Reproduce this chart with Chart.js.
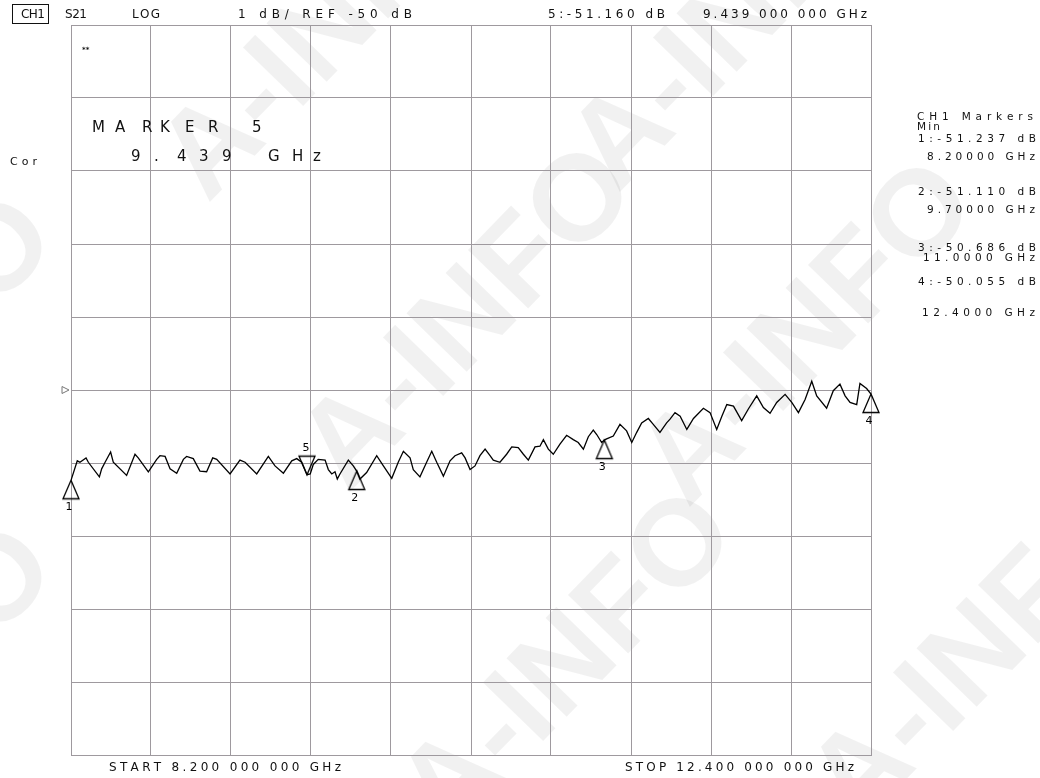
<!DOCTYPE html>
<html>
<head>
<meta charset="utf-8">
<script src="https://cdn.jsdelivr.net/npm/chart.js@4.4.0/dist/chart.umd.min.js"></script>
<style>
  html, body { margin: 0; padding: 0; background: #fff; }
  #wrap { width: 1040px; height: 778px; }
</style>
</head>
<body>
<div id="wrap"><canvas id="chart" width="1040" height="778"></canvas></div>
<script>
// Sweep settings
const startGHz = 8.2;
const stopGHz = 12.4;
const refDB = -50;
const dbPerDiv = 1;

// S21 trace
const freqGHz = [
  8.200, 8.233, 8.247, 8.279, 8.291, 8.349, 8.361, 8.379, 8.408, 8.422,
  8.492, 8.536, 8.553, 8.606, 8.650, 8.667, 8.694, 8.720, 8.755, 8.790,
  8.807, 8.842, 8.877, 8.912, 8.944, 8.965, 9.035, 9.087, 9.114, 9.175,
  9.236, 9.271, 9.315, 9.359, 9.385, 9.411, 9.439, 9.456, 9.472, 9.498,
  9.534, 9.551, 9.569, 9.586, 9.598, 9.612, 9.656, 9.682, 9.700, 9.717,
  9.752, 9.805, 9.840, 9.884, 9.918, 9.945, 9.980, 9.997, 10.032, 10.067,
  10.094, 10.120, 10.155, 10.190, 10.216, 10.251, 10.269, 10.295, 10.321, 10.347,
  10.374, 10.400, 10.417, 10.452, 10.487, 10.514, 10.548, 10.575, 10.601, 10.636,
  10.662, 10.680, 10.706, 10.732, 10.767, 10.802, 10.837, 10.863, 10.890, 10.916,
  10.942, 10.960, 10.986, 11.000, 11.012, 11.047, 11.082, 11.117, 11.144, 11.170,
  11.196, 11.231, 11.257, 11.292, 11.327, 11.345, 11.371, 11.398, 11.433, 11.468,
  11.520, 11.555, 11.590, 11.617, 11.643, 11.678, 11.721, 11.756, 11.800, 11.835,
  11.870, 11.905, 11.949, 11.984, 12.019, 12.054, 12.089, 12.115, 12.167, 12.202,
  12.237, 12.264, 12.290, 12.325, 12.342, 12.377, 12.400
];
const s21dB = [
  -51.237, -50.97, -50.99, -50.93, -50.99, -51.19, -51.08, -50.99, -50.85, -50.99,
  -51.17, -50.88, -50.93, -51.12, -50.95, -50.90, -50.91, -51.08, -51.14, -50.95,
  -50.91, -50.94, -51.11, -51.12, -50.93, -50.95, -51.15, -50.96, -50.99, -51.15,
  -50.91, -51.04, -51.14, -50.97, -50.94, -50.99, -51.16, -51.15, -51.02, -50.95,
  -50.96, -51.09, -51.15, -51.12, -51.22, -51.15, -50.96, -51.04, -51.11, -51.22,
  -51.13, -50.90, -51.04, -51.21, -50.99, -50.84, -50.93, -51.09, -51.19, -50.99,
  -50.84, -50.99, -51.18, -50.97, -50.90, -50.86, -50.93, -51.09, -51.04, -50.90,
  -50.81, -50.90, -50.96, -50.99, -50.88, -50.78, -50.79, -50.88, -50.96, -50.78,
  -50.77, -50.68, -50.81, -50.88, -50.74, -50.62, -50.68, -50.72, -50.81, -50.64,
  -50.55, -50.61, -50.72, -50.686, -50.67, -50.63, -50.47, -50.56, -50.72, -50.58,
  -50.45, -50.39, -50.47, -50.58, -50.45, -50.40, -50.31, -50.36, -50.54, -50.39,
  -50.25, -50.31, -50.54, -50.36, -50.20, -50.22, -50.42, -50.26, -50.08, -50.24,
  -50.32, -50.17, -50.06, -50.17, -50.31, -50.13, -49.88, -50.08, -50.25, -50.01,
  -49.92, -50.08, -50.17, -50.20, -49.91, -49.98, -50.055
];

// Markers 1-4 (min search) and active marker 5
const markerNums = ["1", "2", "3", "4"];
const markerFreqs = [8.2, 9.7, 11.0, 12.4];
const markerVals = [-51.237, -51.110, -50.686, -50.055];
const activeNums = ["5"];
const activeFreqs = [9.439];
const activeVals = [-51.160];

// Marker table on the right
const markerReadouts = ["1:-51.237 dB", "2:-51.110 dB", "3:-50.686 dB", "4:-50.055 dB"];
const markerFreqTexts = ["8.20000 GHz", "9.70000 GHz", "11.0000 GHz", "12.4000 GHz"];

const gridColor = "#9e999e";
const inkColor = "#111";
const screenFont = '"DejaVu Sans"';

// triangle marker glyphs, apex sits on the centre of the image
function makeTriangle(pointDown) {
  const c = document.createElement("canvas");
  c.width = 20; c.height = 44;
  const g = c.getContext("2d");
  g.strokeStyle = "#000";
  g.lineWidth = 1.3;
  g.beginPath();
  if (pointDown) {
    g.moveTo(10, 22); g.lineTo(2, 3.5); g.lineTo(18, 3.5);
  } else {
    g.moveTo(10, 22); g.lineTo(2, 40.5); g.lineTo(18, 40.5);
  }
  g.closePath();
  g.stroke();
  return c;
}

// draw text so that it spans x0..x1 (the analyzer font is very wide)
function spreadText(ctx, text, x0, x1, yc) {
  const chars = [...text];
  const widths = chars.map((c) => ctx.measureText(c).width);
  const total = widths.reduce((a, b) => a + b, 0);
  const gap = chars.length > 1 ? (x1 - x0 - total) / (chars.length - 1) : 0;
  let x = x0;
  chars.forEach((c, i) => {
    ctx.fillText(c, x, yc);
    x += widths[i] + gap;
  });
}

function placeChars(ctx, chars, xs, yc) {
  chars.forEach((c, i) => ctx.fillText(c, xs[i], yc));
}

const screenPlugin = {
  id: "screen",
  beforeDraw(chart) {
    const ctx = chart.ctx;
    ctx.save();
    ctx.fillStyle = "#fff";
    ctx.fillRect(0, 0, chart.width, chart.height);
    // watermark
    ctx.fillStyle = "rgba(0,0,0,0.055)";
    ctx.font = 'bold 122px "Liberation Sans"';
    ctx.textAlign = "center";
    ctx.textBaseline = "middle";
    [[330, 30], [740, 20], [470, 320], [810, 335], [-110, 370], [570, 665], [980, 655], [-110, 700]].forEach(([x, y]) => {
      ctx.save();
      ctx.translate(x, y);
      ctx.rotate(-0.8);
      ctx.fillText("A-INFO", 0, 0);
      ctx.restore();
    });
    ctx.restore();
  },
  afterDraw(chart) {
    const ctx = chart.ctx;
    const yScale = chart.scales.y;
    ctx.save();
    ctx.fillStyle = inkColor;
    ctx.strokeStyle = inkColor;
    ctx.textBaseline = "middle";
    ctx.textAlign = "left";

    // header line
    ctx.font = "12px " + screenFont;
    ctx.lineWidth = 1;
    ctx.strokeRect(12.5, 4.5, 36, 19);
    spreadText(ctx, "CH1", 21, 45, 15);
    spreadText(ctx, "S21", 65, 87, 15);
    spreadText(ctx, "LOG", 132, 160, 15);
    spreadText(ctx, dbPerDiv + " dB/ REF " + refDB + " dB", 238, 412, 15);
    spreadText(ctx, "5:-51.160 dB", 548, 665, 15);
    spreadText(ctx, "9.439 000 000 GHz", 703, 867, 15);

    // footer
    spreadText(ctx, "START 8.200 000 000 GHz", 109, 341, 768);
    spreadText(ctx, "STOP 12.400 000 000 GHz", 625, 854, 768);

    // left annotations
    ctx.font = "11px " + screenFont;
    spreadText(ctx, "Cor", 10, 37, 162);
    ctx.font = "bold 7px " + screenFont;
    ctx.fillText("**", 82, 50);

    ctx.font = "15px " + screenFont;
    placeChars(ctx, ["M", "A", "R", "K", "E", "R", "5"], [92, 115, 142, 160, 185, 208, 252], 128);
    placeChars(ctx, ["9", ".", "4", "3", "9", "G", "H", "z"], [131, 154, 177, 199, 222, 268, 292, 313], 157);

    // marker table
    ctx.font = "10.5px " + screenFont;
    spreadText(ctx, "CH1 Markers", 917, 1033, 117);
    spreadText(ctx, "Min", 917, 940, 127);
    const readY = [139, 192, 248, 282];
    const freqY = [157, 210, 258, 313];
    const freqX = [927, 927, 923, 922];
    markerReadouts.forEach((t, i) => {
      spreadText(ctx, t, 918, 1036, readY[i]);
      spreadText(ctx, markerFreqTexts[i], freqX[i], 1035, freqY[i]);
    });

    // reference position arrow
    const yRef = yScale.getPixelForValue(refDB);
    ctx.strokeStyle = "#777";
    ctx.lineWidth = 1;
    ctx.beginPath();
    ctx.moveTo(62, yRef - 3.5);
    ctx.lineTo(69, yRef);
    ctx.lineTo(62, yRef + 3.5);
    ctx.closePath();
    ctx.stroke();

    // marker numbers
    ctx.fillStyle = "#000";
    ctx.font = "11px " + screenFont;
    ctx.textAlign = "center";
    chart.getDatasetMeta(1).data.forEach((pt, i) => {
      ctx.fillText(markerNums[i], pt.x - 2, pt.y + 27);
    });
    chart.getDatasetMeta(2).data.forEach((pt, i) => {
      ctx.fillText(activeNums[i], pt.x - 1, pt.y - 27);
    });
    ctx.restore();
  }
};

const divTicks = (lo, hi) => (scale) => {
  scale.ticks = Array.from({ length: 11 }, (_, i) => ({ value: lo + (hi - lo) * i / 10 }));
};

const axisBase = {
  type: "linear",
  ticks: { display: false },
  grid: { color: gridColor, lineWidth: 1, drawTicks: false },
  border: { display: true, color: gridColor, width: 1 }
};

new Chart(document.getElementById("chart"), {
  type: "line",
  data: {
    datasets: [
      {
        label: "S21",
        data: freqGHz.map((f, i) => ({ x: f, y: s21dB[i] })),
        borderColor: "#000",
        borderWidth: 1.3,
        pointRadius: 0,
        tension: 0,
        fill: false
      },
      {
        label: "Markers",
        type: "scatter",
        data: markerFreqs.map((f, i) => ({ x: f, y: markerVals[i] })),
        pointStyle: makeTriangle(false),
        clip: false
      },
      {
        label: "Active marker",
        type: "scatter",
        data: activeFreqs.map((f, i) => ({ x: f, y: activeVals[i] })),
        pointStyle: makeTriangle(true),
        clip: false
      }
    ]
  },
  options: {
    responsive: false,
    animation: false,
    devicePixelRatio: 1,
    layout: { padding: { left: 71, right: 169, top: 25, bottom: 23 } },
    plugins: { legend: { display: false }, tooltip: { enabled: false } },
    scales: {
      x: { ...axisBase, min: startGHz, max: stopGHz, afterBuildTicks: divTicks(startGHz, stopGHz) },
      y: { ...axisBase, min: refDB - 5 * dbPerDiv, max: refDB + 5 * dbPerDiv, afterBuildTicks: divTicks(refDB - 5 * dbPerDiv, refDB + 5 * dbPerDiv) }
    }
  },
  plugins: [screenPlugin]
});
</script>
</body>
</html>
